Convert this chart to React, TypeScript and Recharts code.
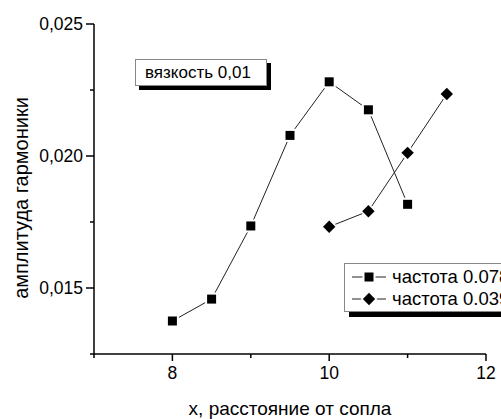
import React from 'react';
import { LineChart, Line, XAxis, YAxis, Legend } from 'recharts';

const xTicks = [7, 8, 9, 10, 11, 12];
const xLabeled = [8, 10, 12];
const yTicks = [0.0125, 0.015, 0.0175, 0.02, 0.0225, 0.025];
const yLabeled = [0.015, 0.02, 0.025];

const seriesA_x = [8, 8.5, 9, 9.5, 10, 10.5, 11];
const seriesA_y = [0.01375, 0.01458, 0.01735, 0.02078, 0.02281, 0.02175, 0.01817];
const seriesB_x = [10, 10.5, 11, 11.5];
const seriesB_y = [0.01732, 0.01791, 0.02012, 0.02235];

const seriesNames = ['частота 0.078', 'частота 0.039'];
const annotation = 'вязкость 0,01';
const xTitle = 'x, расстояние от сопла';
const yTitle = 'амплитуда гармоники';

const dataA = seriesA_x.map((x, i) => ({ x, y: seriesA_y[i] }));
const dataB = seriesB_x.map((x, i) => ({ x, y: seriesB_y[i] }));

const FONT = '"Liberation Sans", Arial, sans-serif';
const W = 501;
const H = 419;

const isIn = (arr: number[], v: number) => arr.some((a) => Math.abs(a - v) < 1e-9);

const YTick = (props: any) => {
  const { x, y, payload } = props;
  const major = isIn(yLabeled, payload.value);
  const len = major ? 8 : 4;
  return (
    <g>
      <line x1={x - len} x2={x} y1={y} y2={y} stroke="#000" strokeWidth={1.5} />
      {major && (
        <text x={x - 11} y={y} textAnchor="end" dominantBaseline="central" fontSize={17.5} fontFamily={FONT} fill="#000">
          {payload.value.toFixed(3).replace('.', ',')}
        </text>
      )}
    </g>
  );
};

const XTick = (props: any) => {
  const { x, y, payload } = props;
  const major = isIn(xLabeled, payload.value);
  const len = major ? 7 : 4;
  return (
    <g>
      <line x1={x} x2={x} y1={y} y2={y + len} stroke="#000" strokeWidth={1.5} />
      {major && (
        <text x={x} y={y + 19} textAnchor="middle" dominantBaseline="central" fontSize={17.5} fontFamily={FONT} fill="#000">
          {String(payload.value)}
        </text>
      )}
    </g>
  );
};

const SquareDot = (props: any) => {
  const { cx, cy, index } = props;
  if (cx == null || cy == null) return null;
  return (
    <g key={`sq-${index}`}>
      <rect x={cx - 6.5} y={cy - 6.5} width={13} height={13} fill="#fff" />
      <rect x={cx - 4.5} y={cy - 4.5} width={9} height={9} fill="#000" />
    </g>
  );
};

const DiamondDot = (props: any) => {
  const { cx, cy, index } = props;
  if (cx == null || cy == null) return null;
  const r1 = 8.5;
  const r2 = 6.2;
  return (
    <g key={`dm-${index}`}>
      <polygon points={`${cx},${cy - r1} ${cx + r1},${cy} ${cx},${cy + r1} ${cx - r1},${cy}`} fill="#fff" />
      <polygon points={`${cx},${cy - r2} ${cx + r2},${cy} ${cx},${cy + r2} ${cx - r2},${cy}`} fill="#000" />
    </g>
  );
};

const LegendMarker = ({ kind }: { kind: number }) => (
  <svg width={34} height={16} style={{ display: 'block', overflow: 'visible' }}>
    <line x1={0} x2={34} y1={8} y2={8} stroke="#222" strokeWidth={1} />
    {kind === 0 ? (
      <g>
        <rect x={10.5} y={1.5} width={13} height={13} fill="#fff" />
        <rect x={12.5} y={3.5} width={9} height={9} fill="#000" />
      </g>
    ) : (
      <g>
        <polygon points="17,-0.5 25.5,8 17,16.5 8.5,8" fill="#fff" />
        <polygon points="17,1.8 23.2,8 17,14.2 10.8,8" fill="#000" />
      </g>
    )}
  </svg>
);

const LegendContent = (props: any) => {
  const payload = [...(props.payload || [])].sort(
    (a: any, b: any) => seriesNames.indexOf(a.value) - seriesNames.indexOf(b.value)
  );
  return (
    <div
      style={{
        width: 220,
        height: 49,
        border: '1px solid #888',
        background: '#fff',
        boxShadow: '5px 5px 0 #000',
        boxSizing: 'border-box',
        paddingTop: 2,
        paddingLeft: 7,
        fontFamily: FONT,
        fontSize: 18.5,
        color: '#000',
      }}
    >
      {payload.map((p: any) => (
        <div key={p.value} style={{ display: 'flex', alignItems: 'center', height: 22, whiteSpace: 'nowrap' }}>
          <LegendMarker kind={seriesNames.indexOf(p.value)} />
          <span style={{ marginLeft: 6 }}>{p.value}</span>
        </div>
      ))}
    </div>
  );
};

export default function App() {
  return (
    <div style={{ position: 'absolute', left: 0, top: 0, width: W, height: H, overflow: 'hidden', background: '#fff' }}>
      <LineChart width={W} height={H} margin={{ top: 24, right: 15, bottom: 0, left: 0 }}>
        <XAxis
          type="number"
          dataKey="x"
          domain={[7, 12]}
          ticks={xTicks}
          interval={0}
          allowDataOverflow
          height={65}
          tickSize={0}
          tickMargin={0}
          tickLine={false}
          tick={<XTick />}
          axisLine={{ stroke: '#000', strokeWidth: 1.5 }}
        />
        <YAxis
          type="number"
          dataKey="y"
          domain={[0.0125, 0.025]}
          ticks={yTicks}
          interval={0}
          allowDataOverflow
          width={94}
          tickSize={0}
          tickMargin={0}
          tickLine={false}
          tick={<YTick />}
          axisLine={{ stroke: '#000', strokeWidth: 1.5 }}
        />
        <Legend
          layout="horizontal"
          verticalAlign="middle"
          align="center"
          content={<LegendContent />}
          wrapperStyle={{ position: 'absolute', left: 344, top: 263, width: 220, height: 49 }}
        />
        <Line
          data={dataA}
          dataKey="y"
          name={seriesNames[0]}
          stroke="#222"
          strokeWidth={1}
          dot={<SquareDot />}
          activeDot={false}
          isAnimationActive={false}
        />
        <Line
          data={dataB}
          dataKey="y"
          name={seriesNames[1]}
          stroke="#222"
          strokeWidth={1}
          dot={<DiamondDot />}
          activeDot={false}
          isAnimationActive={false}
        />
      </LineChart>
      <div
        style={{
          position: 'absolute',
          left: 135,
          top: 59,
          width: 132,
          height: 27,
          border: '1px solid #888',
          background: '#fff',
          boxShadow: '4px 4px 0 #000',
          boxSizing: 'border-box',
          fontFamily: FONT,
          fontSize: 17,
          lineHeight: '25px',
          paddingLeft: 9,
          whiteSpace: 'nowrap',
          color: '#000',
        }}
      >
        {annotation}
      </div>
      <div
        style={{
          position: 'absolute',
          left: 21,
          top: 198,
          transform: 'translate(-50%, -50%) rotate(-90deg)',
          fontFamily: FONT,
          fontSize: 20,
          whiteSpace: 'nowrap',
          color: '#000',
        }}
      >
        {yTitle}
      </div>
      <div
        style={{
          position: 'absolute',
          left: 290,
          top: 409,
          transform: 'translate(-50%, -50%)',
          fontFamily: FONT,
          fontSize: 19,
          whiteSpace: 'nowrap',
          color: '#000',
        }}
      >
        {xTitle}
      </div>
    </div>
  );
}
